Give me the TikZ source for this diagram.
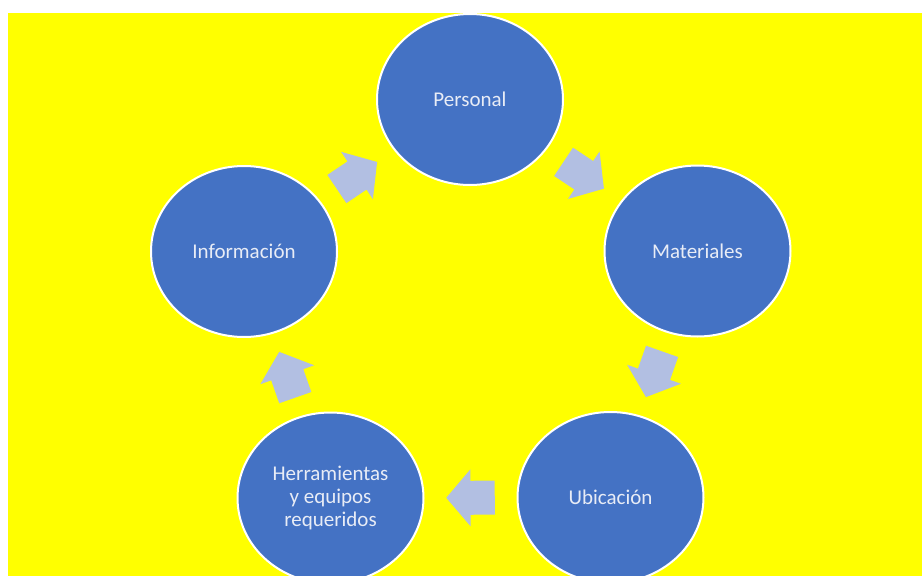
\documentclass[tikz,border=0pt]{standalone}
\usepackage{fontspec}
\setmainfont{Carlito}
\usetikzlibrary{shapes.geometric,calc}
\definecolor{bgyellow}{RGB}{255,255,0}
\definecolor{circblue}{RGB}{68,114,196}
\definecolor{arrowc}{RGB}{178,191,226}
\definecolor{txtc}{RGB}{232,236,246}
\tikzset{
  stage/.style={ellipse, fill=circblue, draw=white, line width=2pt,
    minimum width=186pt, minimum height=171pt, inner sep=0pt,
    text=txtc, font=\fontsize{21}{23}\selectfont, align=center},
  cyclearrow/.style={fill=arrowc, draw=none}
}
\newcommand\blockarrow[2]{%
  \pgfmathanglebetweenpoints{\pgfpointanchor{#1}{center}}{\pgfpointanchor{#2}{center}}%
  \let\myang\pgfmathresult
  \fill[cyclearrow, shift={($(#1)!0.5!(#2)$)}, rotate=\myang]
    (-24.25,-17) -- (0,-17) -- (0,-28.5) -- (24.25,0) -- (0,28.5) -- (0,17) -- (-24.25,17) -- cycle;
}
\begin{document}
\begin{tikzpicture}[x=1pt,y=-1pt]
  \useasboundingbox (0,0) rectangle (922,576);
  \clip (0,0) rectangle (922,576);
  \fill[white] (0,0) rectangle (922,576);
  \fill[bgyellow] (8,13) rectangle (922,576);
  \node[stage] (pers) at (470,99.5) {Personal};
  \node[stage] (mat) at (697.5,251) {Materiales};
  \node[stage] (ubi) at (610.5,497.5) {Ubicación};
  \node[stage] (herr) at (330.5,498) {Herramientas\\y equipos\\requeridos};
  \node[stage] (info) at (244,251.5) {Información};
  \blockarrow{pers}{mat}
  \blockarrow{mat}{ubi}
  \blockarrow{ubi}{herr}
  \blockarrow{herr}{info}
  \blockarrow{info}{pers}
\end{tikzpicture}
\end{document}
